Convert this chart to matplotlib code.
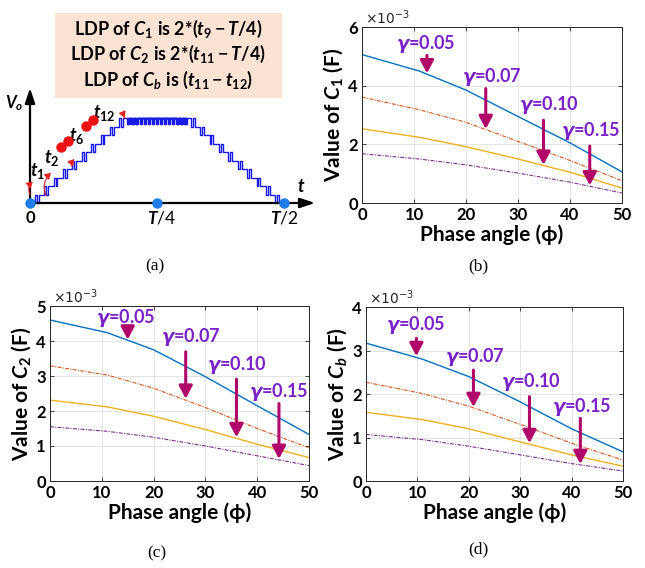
import numpy as np
import matplotlib
matplotlib.use('Agg')
import matplotlib.pyplot as plt
from matplotlib.patches import Rectangle, FancyArrowPatch

plt.rcParams['font.family'] = ['Lato', 'DejaVu Sans']
plt.rcParams['mathtext.fontset'] = 'custom'
plt.rcParams['mathtext.rm'] = 'Lato:bold'
plt.rcParams['mathtext.it'] = 'Lato:italic:bold'
plt.rcParams['mathtext.bf'] = 'Lato:bold'
plt.rcParams['mathtext.sf'] = 'Lato:bold'
plt.rcParams['mathtext.bfit'] = 'DejaVu Sans:italic:bold'
plt.rcParams['mathtext.fallback'] = 'stixsans'

# ---------------- data ----------------
phase = [0, 11, 20, 30, 40, 50]
gamma_labels = ['0.05', '0.07', '0.10', '0.15']

c1_g005 = [5.06, 4.50, 3.85, 2.95, 2.05, 1.06]
c1_g007 = [3.61, 3.18, 2.75, 2.10, 1.45, 0.76]
c1_g010 = [2.53, 2.24, 1.92, 1.50, 1.05, 0.51]
c1_g015 = [1.68, 1.50, 1.30, 1.02, 0.71, 0.34]

c2_g005 = [4.60, 4.24, 3.75, 2.98, 2.15, 1.33]
c2_g007 = [3.29, 3.03, 2.65, 2.10, 1.50, 0.95]
c2_g010 = [2.31, 2.12, 1.85, 1.47, 1.05, 0.67]
c2_g015 = [1.55, 1.42, 1.25, 1.00, 0.72, 0.44]

cb_g005 = [3.17, 2.80, 2.40, 1.82, 1.20, 0.67]
cb_g007 = [2.27, 2.01, 1.72, 1.30, 0.87, 0.48]
cb_g010 = [1.58, 1.41, 1.20, 0.90, 0.60, 0.34]
cb_g015 = [1.07, 0.95, 0.80, 0.60, 0.40, 0.23]

x_ticks = [0, 10, 20, 30, 40, 50]
c1_yticks = [0, 2, 4, 6]
c2_yticks = [0, 1, 2, 3, 4, 5]
cb_yticks = [0, 1, 2, 3, 4]

# annotation placement: (text x, text y, arrow x, arrow start y, arrow end y)
c1_notes = [(12.2, 5.43, 12.5, 5.03, 4.42), (25.0, 4.30, 23.8, 3.90, 2.52),
            (36.0, 3.33, 34.9, 2.82, 1.30), (44.0, 2.44, 43.8, 1.94, 0.60)]
c2_notes = [(14.6, 4.65, 15.0, 4.36, 4.04), (27.1, 4.12, 26.2, 3.69, 2.35),
            (36.1, 3.31, 36.0, 2.91, 1.25), (44.2, 2.55, 44.2, 2.21, 0.63)]
cb_notes = [(9.6, 3.59, 9.8, 3.28, 2.87), (21.2, 2.86, 20.9, 2.55, 1.70),
            (32.0, 2.28, 31.8, 1.94, 0.87), (41.9, 1.71, 41.7, 1.44, 0.39)]

W, H = 645, 568
fig = plt.figure(figsize=(W / 100, H / 100), dpi=100)


def fx(px):
    return px / W


def fy(py):
    return 1 - py / H


line_styles = [dict(color='#0072BD', ls='-', lw=1.0),
               dict(color='#D95319', ls=(0, (3.5, 1.2, 1, 1.2)), lw=0.8),
               dict(color='#EDB120', ls='-', lw=1.0),
               dict(color='#7E2F8E', ls=(0, (3.5, 1.2, 1, 1.2)), lw=0.8)]
TXT_COL = '#7A22C8'
ARR_COL = '#B0066A'


def panel(rect, series, yticks, ylabel, notes):
    l, r, t, b = rect
    ax = fig.add_axes([fx(l), fy(b), fx(r - l), (b - t) / H])
    for vals, st in zip(series, line_styles):
        ax.plot(phase, vals, **st)
    ax.set_xlim(0, 50)
    ax.set_ylim(yticks[0], yticks[-1])
    ax.set_xticks(x_ticks)
    ax.set_yticks(yticks)
    ax.set_xticklabels([str(v) for v in x_ticks], fontweight='bold', fontsize=12)
    ax.set_yticklabels([str(v) for v in yticks], fontweight='bold', fontsize=12)
    ax.grid(True, color='#E3E3E3', lw=0.7)
    ax.set_axisbelow(True)
    ax.tick_params(direction='in', length=3, width=0.6, top=True, right=True,
                   colors='#262626', labelcolor='black', pad=3)
    for s in ax.spines.values():
        s.set_color('#262626')
        s.set_linewidth(0.7)
    ax.set_xlabel('Phase angle (\u03d5)', fontweight='bold', fontsize=15, labelpad=1)
    ax.set_ylabel(ylabel, fontweight='bold', fontsize=15, labelpad=2)
    ax.text(0.01, 1.0, '$\\times10^{-3}$', transform=ax.transAxes, fontsize=10,
            ha='left', va='bottom', math_fontfamily='dejavusans', color='#262626')
    for (tx, ty, axx, y0, y1), g in zip(notes, gamma_labels):
        ax.text(tx, ty, '$\\boldsymbol{\\gamma}$=' + g, color=TXT_COL, fontsize=13,
                fontweight='bold', ha='center', va='center')
        ax.annotate('', xy=(axx, y1), xytext=(axx, y0),
                    arrowprops=dict(arrowstyle='-|>,head_width=0.45,head_length=0.85',
                                    color=ARR_COL, lw=2.2, shrinkA=0, shrinkB=0,
                                    mutation_scale=9))
    return ax


panel((362, 622, 27, 203), [c1_g005, c1_g007, c1_g010, c1_g015], c1_yticks,
      'Value of $C_1$ (F)', c1_notes)
panel((50, 309, 306, 481), [c2_g005, c2_g007, c2_g010, c2_g015], c2_yticks,
      'Value of $C_2$ (F)', c2_notes)
panel((366, 623, 307, 481), [cb_g005, cb_g007, cb_g010, cb_g015], cb_yticks,
      'Value of $C_b$ (F)', cb_notes)

# ---------------- panel (a): schematic ----------------
n_levels = 10
t_rise_start, t_rise_end = 0.005, 0.19
n_plateau_dips = 15

ax = fig.add_axes([0, fy(230), fx(330), 150 / H])
px_per_T = 508.0
lvl_px = 85.0 / n_levels
ax.set_xlim(-30 / px_per_T, 300 / px_per_T)
ax.set_ylim((203 - 230) / lvl_px, (203 - 80) / lvl_px)
ax.axis('off')

ts, ls_ = [0.0], [0]
w = (t_rise_end - t_rise_start) / n_levels
for k in range(n_levels):
    s = t_rise_start + k * w
    ts += [s + 0.25 * w, s + 0.45 * w, s + 0.65 * w]
    ls_ += [k + 1, k, k + 1]
pw = (0.5 - 2 * t_rise_end) / n_plateau_dips
for j in range(n_plateau_dips):
    s = t_rise_end + j * pw
    ts += [s + 0.45 * pw, s + 0.80 * pw]
    ls_ += [n_levels - 0.7, n_levels]
rise_t = ts[:]
rise_l = ls_[:]
fall_pts = []
for i in range(len(rise_t) - 1, 0, -1):
    fall_pts.append((0.5 - rise_t[i], rise_l[i - 1]))
all_t = ts + [p[0] for p in fall_pts] + [0.5]
all_l = ls_ + [p[1] for p in fall_pts] + [0]
ax.step(all_t, all_l, where='post', color='#1A1AE6', lw=1.0, zorder=3)

x_end = (315 - 30) / px_per_T
y_top = (203 - 88) / lvl_px
ax.annotate('', xy=(x_end, 0), xytext=(-0.002, 0),
            arrowprops=dict(arrowstyle='-|>,head_width=0.3,head_length=0.9',
                            color='black', lw=1.6, shrinkA=0, shrinkB=0, mutation_scale=10))
ax.annotate('', xy=(0, y_top), xytext=(0, -0.1),
            arrowprops=dict(arrowstyle='-|>,head_width=0.3,head_length=0.9',
                            color='black', lw=1.6, shrinkA=0, shrinkB=0, mutation_scale=10))
ax.plot([0, 0.25, 0.5], [0, 0, 0], 'o', color='#1E7BE8', ms=6.5, zorder=5, clip_on=False)


def P(x, y):
    return ((x - 30) / px_per_T, (203 - y) / lvl_px)


ax.text(*P(30, 210), '0', ha='center', va='top', fontsize=12, fontweight='bold')
ax.text(*P(162, 210), '$T$/4', ha='center', va='top', fontsize=12.5)
ax.text(*P(284, 210), '$T$/2', ha='center', va='top', fontsize=12.5)
ax.text(*P(301, 187), '$t$', ha='center', va='center', fontsize=13)
ax.text(*P(14, 103), '$V_o$', ha='center', va='center', fontsize=12)

dots = [(61, 147), (68, 141), (86, 126), (93, 120)]
for d in dots:
    ax.plot(*P(*d), 'o', color='#EE1111', ms=6.5, zorder=4)

labels = [('$t_1$', (37.5, 171)), ('$t_2$', (51.5, 158)), ('$t_6$', (77, 136)),
          ('$t_{12}$', (104, 113))]
for s, (x, y) in labels:
    ax.text(*P(x, y), s, ha='center', va='center', fontsize=13)

red_arrows = [((31.5, 197), (35, 180), -0.5), ((47, 198), (53, 171), -0.4),
              ((72, 169), (76, 157), -0.3), ((126, 121), (116, 113), 0.45)]
for (a, b, rad) in red_arrows:
    ax.add_patch(FancyArrowPatch(P(*a), P(*b), connectionstyle=f'arc3,rad={rad}',
                                 arrowstyle='-|>,head_width=2.2,head_length=3.5',
                                 color='#E52020', lw=0.8, zorder=4))

fig.add_artist(Rectangle((fx(55), fy(98)), fx(227), 85 / H, transform=fig.transFigure,
                         facecolor='#FBE3D3', edgecolor='none', zorder=0))
box_lines = ['LDP of $C_1$ is 2*($t_9 - T$/4)',
             'LDP of $C_2$ is 2*($t_{11} - T$/4)',
             'LDP of $C_b$ is ($t_{11} - t_{12}$)']
for s, y in zip(box_lines, [29, 54, 80]):
    fig.text(fx(168), fy(y), s, ha='center', va='center', fontsize=13, fontweight='bold')

# captions
for s, (x, y) in zip(['(a)', '(b)', '(c)', '(d)'],
                     [(155, 266), (478, 266), (157, 553), (478, 549)]):
    fig.text(fx(x), fy(y), s, ha='center', va='center', fontsize=12.5,
             family='Liberation Serif')

fig.savefig('out.png', dpi=100)
